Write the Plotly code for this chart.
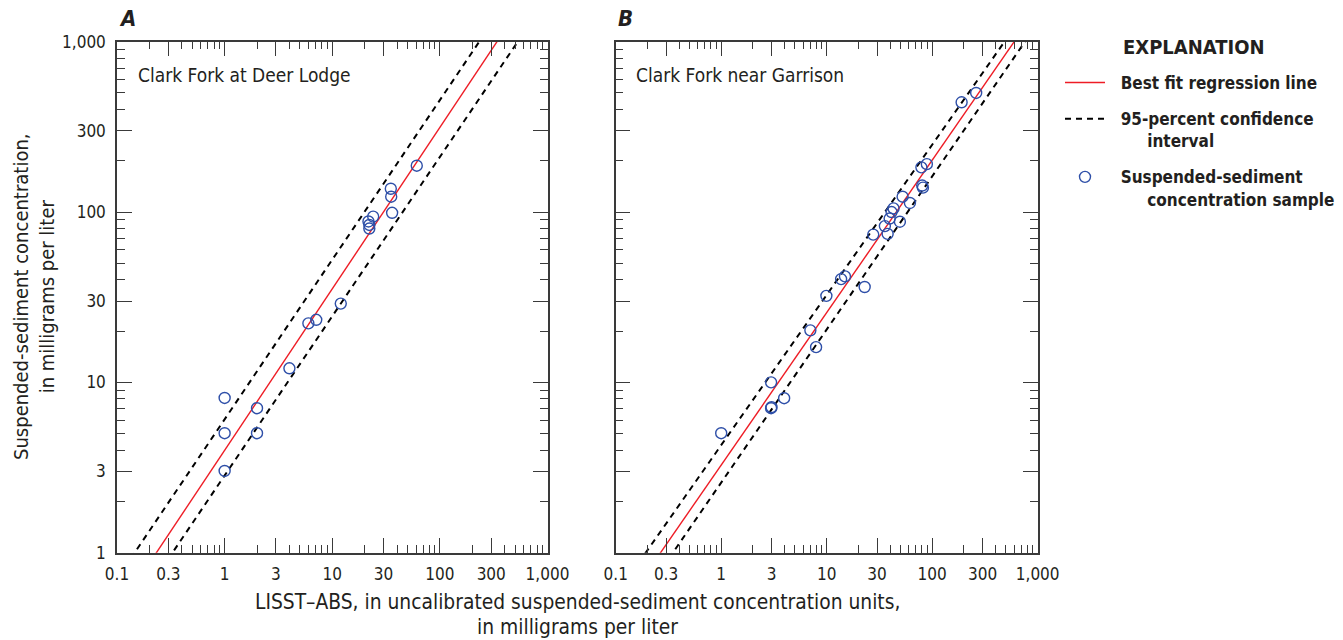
import numpy as np
import plotly.graph_objects as go

W, H = 1343, 640

# ---------------- data ----------------
# Panel A: Clark Fork at Deer Lodge
a_lisst = [61, 35, 35.3, 36, 24, 21.7, 22.1, 22.1, 12, 7.1, 6, 4, 1, 2, 1, 2, 1]
a_ssc = [187, 137, 123, 99, 94, 88, 84, 80, 29, 23.3, 22.2, 12.1, 8.1, 7.05, 5.03, 5.03, 3.02]

# Panel B: Clark Fork near Garrison
b_lisst = [261, 190, 89, 79, 80.4, 81.7, 52.4, 61.5, 43, 41.2, 39.5, 49.4, 35.6,
           37.8, 27.6, 14.9, 13.7, 22.9, 9.93, 7.0, 7.93, 2.97, 3.95, 2.97, 3.0, 1.0]
b_ssc = [500, 441, 191, 183, 143, 139, 123, 113, 105, 100, 91.6, 87.7, 82.7,
         74.4, 73.7, 41.9, 40.4, 36.3, 32.2, 20.2, 16.1, 10.0, 8.07, 7.05, 7.15, 5.03]

# regression coefficients: SSC = coef * LISST ** exponent
a_fit, a_upper, a_lower = (3.99, 0.948), (6.07, 0.937), (2.84, 0.935)
b_fit, b_upper, b_lower = (3.27, 0.895), (4.28, 0.882), (2.58, 0.899)

panel_titles = ["Clark Fork at Deer Lodge", "Clark Fork near Garrison"]
panel_letters = ["A", "B"]

x_tickvals = [0.1, 0.3, 1, 3, 10, 30, 100, 300, 1000]
x_ticktext = ["0.1", "0.3", "1", "3", "10", "30", "100", "300", "1,000"]
y_tickvals = [1, 3, 10, 30, 100, 300, 1000]
y_ticktext = ["1", "3", "10", "30", "100", "300", "1,000"]

x_title_lines = ["LISST\u2013ABS, in uncalibrated suspended-sediment concentration units,",
                 "in milligrams per liter"]
y_title = "Suspended-sediment concentration,<br>in milligrams per liter"

# ---------------- style ----------------
FONT = "DejaVu Sans Condensed, Liberation Sans Narrow, sans-serif"
TXT = "#231f20"
AX = "#3a3a3a"
RED = "#ee1c25"
BLUE = "#2e4fa8"
NB = "\u00a0"

x_minor = [m * 10.0 ** e for e in range(-1, 3) for m in (2, 4, 5, 6, 7, 8, 9)]
y_minor = [m * 10.0 ** e for e in range(0, 3) for m in (2, 4, 5, 6, 7, 8, 9)]

fig = go.Figure()
xs = np.logspace(-1.5, 3.5, 201)

name_fit = NB * 2 + "Best fit regression line"
name_ci = NB * 2 + "95-percent confidence<br>" + NB * 7 + "interval"
name_pts = NB * 2 + "Suspended-sediment<br>" + NB * 7 + "concentration sample"

panels = [
    ("x", "y", a_lisst, a_ssc, a_fit, a_upper, a_lower, True),
    ("x2", "y2", b_lisst, b_ssc, b_fit, b_upper, b_lower, False),
]
for xa, ya, lx, sy, fit, up, lo, show in panels:
    fig.add_trace(go.Scatter(x=xs, y=fit[0] * xs ** fit[1], mode="lines",
                             line=dict(color=RED, width=1.4), xaxis=xa, yaxis=ya,
                             name=name_fit, showlegend=show, legendgroup="fit"))
    for k, (c, e) in enumerate((up, lo)):
        fig.add_trace(go.Scatter(x=xs, y=c * xs ** e, mode="lines",
                                 line=dict(color="black", width=2, dash="6px,5px"),
                                 xaxis=xa, yaxis=ya, name=name_ci,
                                 showlegend=show and k == 0, legendgroup="ci"))
    fig.add_trace(go.Scatter(x=lx, y=sy, mode="markers",
                             marker=dict(symbol="circle-open", size=11, color=BLUE,
                                         line=dict(width=1.4, color=BLUE)),
                             xaxis=xa, yaxis=ya, name=name_pts,
                             showlegend=show, legendgroup="pts"))

ydom = [(H - 552.7) / H, (H - 41.7) / H]
xdoms = [[117 / W, 547.5 / W], [615.7 / W, 1037.7 / W]]

common_x = dict(type="log", range=[-1, 3], tickvals=x_tickvals, ticktext=x_ticktext,
                ticks="inside", ticklen=15, tickwidth=1.2, tickcolor=AX,
                showline=True, linecolor=AX, linewidth=1.5, mirror="ticks",
                showgrid=False, zeroline=False, ticklabelstandoff=5, automargin=False,
                tickfont=dict(family=FONT, size=17, color=TXT),
                minor=dict(tickvals=x_minor, ticks="inside", ticklen=8,
                           tickwidth=1.2, tickcolor=AX, showgrid=False))
common_y = dict(type="log", range=[0, 3], tickvals=y_tickvals, ticktext=y_ticktext,
                ticks="inside", ticklen=15, tickwidth=1.2, tickcolor=AX,
                showline=True, linecolor=AX, linewidth=1.5, mirror="ticks",
                showgrid=False, zeroline=False, domain=ydom, automargin=False,
                tickfont=dict(family=FONT, size=17, color=TXT),
                minor=dict(tickvals=y_minor, ticks="inside", ticklen=8,
                           tickwidth=1.2, tickcolor=AX, showgrid=False))

fig.update_layout(
    width=W, height=H, margin=dict(l=0, r=0, t=0, b=0, autoexpand=False),
    paper_bgcolor="white", plot_bgcolor="white",
    font=dict(family=FONT, color=TXT),
    xaxis=dict(common_x, domain=xdoms[0], anchor="y"),
    yaxis=dict(common_y, anchor="x", ticklabelstandoff=6),
    xaxis2=dict(common_x, domain=xdoms[1], anchor="y2"),
    yaxis2=dict(common_y, anchor="x2", showticklabels=False),
    showlegend=True,
    legend=dict(x=1060 / W, xanchor="left", y=1 - 65 / H, yanchor="top",
                font=dict(family=FONT, size=17, color=TXT, weight="bold"),
                itemwidth=40, valign="top", tracegroupgap=11,
                bgcolor="rgba(0,0,0,0)"),
)

annotations = []
for i, (t, L) in enumerate(zip(panel_titles, panel_letters)):
    xr = "x domain" if i == 0 else "x2 domain"
    yr = "y domain" if i == 0 else "y2 domain"
    annotations.append(dict(text=t, xref=xr, yref=yr, x=0.043, y=(552.7 - 75) / 511,
                            xanchor="left", yanchor="middle", showarrow=False,
                            font=dict(family=FONT, size=19, color=TXT)))
    annotations.append(dict(text="<b><i>" + L + "</i></b>", xref=xr, yref="paper",
                            x=0, y=1 - 19 / H, xanchor="left", yanchor="middle",
                            showarrow=False, font=dict(family=FONT, size=22, color=TXT)))

annotations.append(dict(text="<b>EXPLANATION</b>", xref="paper", yref="paper",
                        x=1194 / W, y=1 - 47 / H, xanchor="center", yanchor="middle",
                        showarrow=False, font=dict(family=FONT, size=20, color=TXT)))
for line, ypx in zip(x_title_lines, (602, 627)):
    annotations.append(dict(text=line, xref="paper", yref="paper", x=577 / W,
                            y=1 - ypx / H, xanchor="center", yanchor="middle",
                            showarrow=False, borderpad=0,
                            font=dict(family=FONT, size=20.8, color=TXT)))
annotations.append(dict(text=y_title, xref="paper", yref="paper", x=34 / W, y=1 - 297 / H,
                        xanchor="center", yanchor="middle", textangle=-90, showarrow=False,
                        font=dict(family=FONT, size=20, color=TXT)))
fig.update_layout(annotations=annotations)

fig.write_html("out.html")
